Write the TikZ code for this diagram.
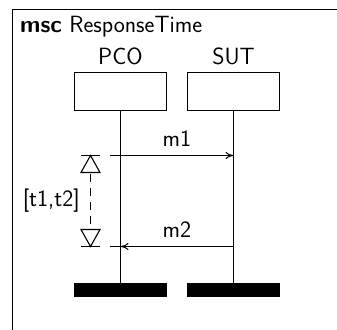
\documentclass[tikz,border=0pt]{standalone}
\usetikzlibrary{arrows.meta}
\begin{document}
\begin{tikzpicture}[x=1pt,y=-1pt,
  lbl/.style={font=\sffamily\fontsize{23.5}{26}\selectfont, inner sep=0pt},
  inst/.style={draw, line width=1.2pt, minimum width=92pt, minimum height=38pt, inner sep=0pt},
  endbar/.style={fill=black, draw=black, minimum width=92pt, minimum height=13pt, inner sep=0pt},
  life/.style={line width=1.2pt},
  msg/.style={line width=1pt, -{To[length=8pt,width=7pt]}},
  tri/.style={draw, line width=1.1pt},
  thin/.style={line width=1.1pt}]
\useasboundingbox (0,0) rectangle (337,329);
\draw[line width=1.4pt] (12.5,340) -- (12.5,9.5) -- (345,9.5);
\node[lbl, anchor=base west] (title) at (20,32.5) {\textbf{msc} ResponseTime};
\node[lbl, anchor=base] (pcol) at (120.5,64) {PCO};
\node[lbl, anchor=base] (sutl) at (233.5,64) {SUT};
\node[inst] (pco) at (120.5,91.5) {};
\node[inst] (sut) at (233.5,91.5) {};
\node[endbar] (pcoe) at (120.5,289.5) {};
\node[endbar] (sute) at (233.5,289.5) {};
\draw[life] (pco.south) -- (pcoe.north);
\draw[life] (sut.south) -- (sute.north);
\coordinate (m1s) at (110,155.5);
\coordinate (m1e) at (sut.south |- 0,155.5);
\coordinate (m2s) at (sut.south |- 0,246.5);
\coordinate (m2e) at (110,246.5);
\coordinate (m2t) at (pco.south |- 0,246.5);
\node[lbl, anchor=base] (m1) at (177,146) {m1};
\node[lbl, anchor=base] (m2) at (177,237) {m2};
\draw[msg] (m1s) -- (m1e);
\draw[msg] (m2s) -- (m2t);
\draw[msg, -] (m2t) -- (m2e);
% measurement
\coordinate (ta) at (90.5,155.5);
\coordinate (tb) at (90.5,246.5);
\draw[thin] (81,155.5) -- (100,155.5);
\draw[tri] (ta) -- (81,172.5) -- (100,172.5) -- cycle;
\draw[thin] (81,246.5) -- (100,246.5);
\draw[tri] (tb) -- (81,229.5) -- (100,229.5) -- cycle;
\draw[thin, dash pattern=on 8pt off 6pt] (90.5,174) -- (90.5,229);
\node[lbl, anchor=east] (tm) at (80,201) {[t1,t2]};
\end{tikzpicture}
\end{document}
